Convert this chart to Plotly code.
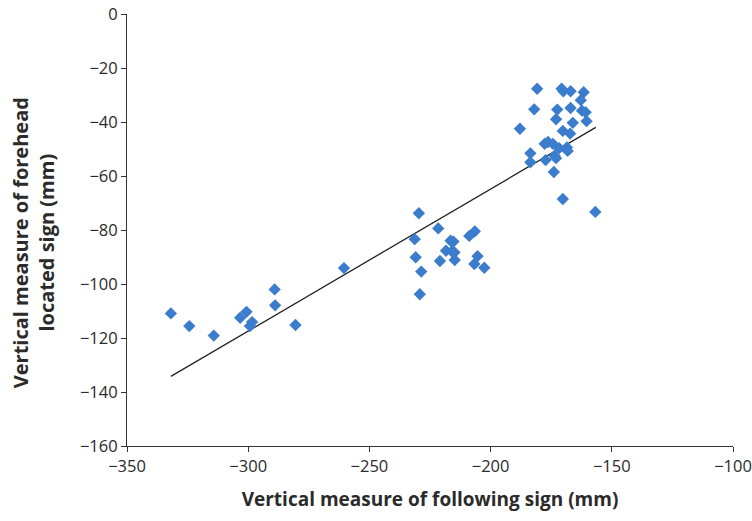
import plotly.graph_objects as go

following = [-331.9, -324.3, -314.2, -303.3, -300.7, -298.4, -299.3, -289.1, -288.9, -280.5,
             -260.5,
             -229.6, -221.6, -231.3, -230.9, -228.6, -229.2, -220.9, -218.4, -216.5, -215.3,
             -216.0, -214.9, -214.8, -208.8, -206.5, -205.4, -206.7, -202.6,
             -180.8, -170.7, -170.0, -167.0, -161.6, -162.8, -182.0, -172.5, -167.0, -162.3,
             -160.8, -173.0, -166.1, -160.4, -187.9, -170.2, -167.2, -177.7, -176.3, -174.3,
             -171.7, -168.5, -168.2, -183.6, -183.6, -177.3, -173.6, -173.0, -173.9, -170.2,
             -156.8]
forehead = [-110.9, -115.6, -119.1, -112.5, -110.3, -114.1, -115.6, -102.0, -107.9, -115.2,
            -94.1,
            -73.8, -79.4, -83.4, -90.1, -95.4, -103.8, -91.5, -87.7, -84.0, -84.3,
            -87.9, -88.3, -91.1, -82.2, -80.5, -89.7, -92.6, -94.0,
            -27.7, -27.7, -28.6, -28.6, -29.0, -31.9, -35.3, -35.4, -34.8, -35.8,
            -36.4, -39.0, -40.3, -39.7, -42.5, -43.3, -44.3, -48.1, -47.4, -48.1,
            -49.7, -49.4, -50.7, -51.6, -54.9, -54.1, -52.5, -53.4, -58.5, -68.5,
            -73.3]

# linear trend line
trend_x = [-331.9, -156.6]
trend_y = [-134.2, -42.0]

x_ticks = [-350, -300, -250, -200, -150, -100]
y_ticks = [-160, -140, -120, -100, -80, -60, -40, -20, 0]

FONT = "Open Sans, sans-serif"
TXT = "#2b2b2b"

fig = go.Figure()
fig.add_trace(go.Scatter(x=trend_x, y=trend_y, mode="lines",
                         line=dict(color="#222222", width=1.3), showlegend=False,
                         hoverinfo="skip"))
fig.add_trace(go.Scatter(x=following, y=forehead, mode="markers",
                         marker=dict(symbol="diamond", size=9.5, color="#3b7dcc",
                                     line=dict(width=0)),
                         showlegend=False))

axis_common = dict(showgrid=False, zeroline=False, showline=True, linecolor="#333333",
                   linewidth=1, ticks="outside", ticklen=5, tickcolor="#333333",
                   ticklabeloverflow="allow", automargin=False,
                   tickfont=dict(family=FONT, size=16.5, color=TXT))

fig.update_xaxes(range=[-350, -100], tickvals=x_ticks,
                 ticktext=[str(v).replace("-", "\u2212") for v in x_ticks],
                 title=dict(text="<b>Vertical measure of following sign (mm)</b>",
                            font=dict(family=FONT, size=19, color=TXT),
                            standoff=16),
                 **axis_common)
fig.update_yaxes(range=[-160, 0], tickvals=y_ticks,
                 ticktext=[str(v).replace("-", "\u2212") for v in y_ticks],
                 **axis_common)

fig.add_annotation(text="<b>Vertical measure of forehead<br>located sign (mm)</b>",
                   xref="paper", yref="paper", x=-0.153, y=0.47,
                   xanchor="center", yanchor="middle", textangle=-90, showarrow=False,
                   font=dict(family=FONT, size=20, color=TXT))

fig.update_layout(width=752, height=521, plot_bgcolor="white", paper_bgcolor="white",
                  margin=dict(l=127, r=19, t=14, b=75))

fig.write_html("out.html")
